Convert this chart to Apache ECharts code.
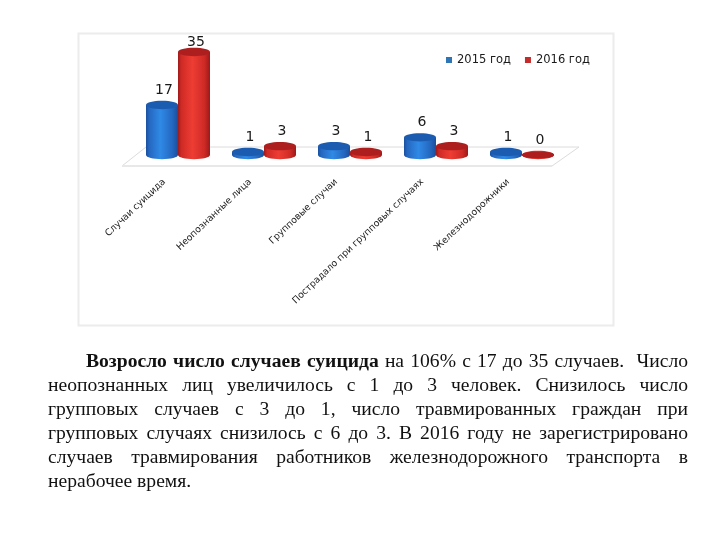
<!DOCTYPE html>
<html><head><meta charset="utf-8">
<script src="https://cdn.jsdelivr.net/npm/echarts@6/dist/echarts.min.js"></script>
<style>
html,body{margin:0;padding:0;background:#fff;width:720px;height:540px;overflow:hidden}
#c{position:absolute;left:0;top:0;width:720px;height:540px}
#t{position:absolute;left:48px;top:349px;width:640px;font-family:"Liberation Serif",serif;font-size:19.6px;line-height:23.9px;color:#111}
#t div{text-align:justify;text-align-last:justify;white-space:pre-wrap}
#t div.last{text-align-last:left}
#t div.first{padding-left:38px}
</style></head><body>
<div id="c"></div>
<div id="t">
<div class="first"><b>Возросло число случаев суицида</b> на 106% с 17 до 35 случаев.  Число</div>
<div>неопознанных лиц увеличилось с 1 до 3 человек. Снизилось число</div>
<div>групповых случаев с 3 до 1, число травмированных граждан при</div>
<div>групповых случаях снизилось с 6 до 3. В 2016 году не зарегистрировано</div>
<div>случаев травмирования работников железнодорожного транспорта в</div>
<div class="last">нерабочее время.</div>
</div>
<script>
var categories = ['Случаи суицида','Неопознанные лица','Групповые случаи','Пострадало при групповых случаях','Железнодорожники'];
var values2015 = [17,1,3,6,1];
var values2016 = [35,3,1,3,0];
var name2015 = '2015 год', name2016 = '2016 год';

function grad(c){
  return new echarts.graphic.LinearGradient(0,0,1,0,[
    {offset:0,color:c[0]},{offset:0.1,color:c[1]},{offset:0.45,color:c[2]},{offset:0.82,color:c[1]},{offset:1,color:c[0]}
  ]);
}
var blue = ['#1a4f9c','#2467c0','#2f8ae6'], blueTop = '#1c5cb0';
var red = ['#9c1a1a','#cf2a26','#ee3d33'], redTop = '#ad1f1f';

function cyl(side, pal, top){
  return function(params, api){
    var i = api.value(0), v = api.value(1);
    var rx = 16, ry = 4.2;
    var a = api.coord([i, v]), b = api.coord([i, 0]);
    var cx = a[0] + side * 16, yt = a[1], yb = b[1];
    var kids = [
      {type:'ellipse',shape:{cx:cx,cy:yb,rx:rx,ry:ry},style:{fill:grad(pal)}},
      {type:'rect',shape:{x:cx-rx,y:yt,width:rx*2,height:yb-yt},style:{fill:grad(pal)}},
      {type:'ellipse',shape:{cx:cx,cy:yt,rx:rx,ry:v===0?3.4:ry},style:{fill:top}},
      {type:'text',style:{x:cx+2,y:Math.max(yt-15,42),text:String(v),align:'center',verticalAlign:'middle',
        font:'14px "DejaVu Sans"',fill:'#1a1a1a'}}
    ];
    return {type:'group',children:kids};
  };
}

var chart = echarts.init(document.getElementById('c'));
chart.setOption({
  backgroundColor:'#fff',
  animation:false,
  legend:{
    left:441,top:49,itemWidth:6,itemHeight:6,itemGap:14,icon:'rect',
    data:[name2015,name2016],
    textStyle:{fontFamily:'"DejaVu Sans"',fontSize:11.5,color:'#1a1a1a'}
  },
  grid:{left:135,width:430,top:52,height:103},
  xAxis:{type:'category',data:categories,
    axisLine:{show:false},axisTick:{show:false},splitLine:{show:false},
    axisLabel:{interval:0,rotate:43.5,margin:12.4,fontFamily:'"DejaVu Sans"',fontSize:9.3,color:'#222',hideOverlap:false,padding:[0,19,0,0]}},
  yAxis:{type:'value',min:0,max:35,show:false},
  graphic:[
    {type:'rect',z:0,shape:{x:78.5,y:33.5,width:535,height:292},style:{fill:'#fff',stroke:'#ececec',lineWidth:2}},
    {type:'polygon',z:0,shape:{points:[[146,147],[579,147],[552,166],[122,166]]},style:{fill:'#fff',stroke:'#dcdcdc',lineWidth:1}},
    {type:'rect',z:0,shape:{x:122,y:165,width:430,height:2},style:{fill:'#e8e8e8'}}
  ],
  series:[
    {name:name2015,type:'custom',coordinateSystem:'cartesian2d',itemStyle:{color:'#2e75b6'},
      renderItem:cyl(-1,blue,blueTop),encode:{x:0,y:1},data:values2015.map(function(v,i){return [i,v];})},
    {name:name2016,type:'custom',coordinateSystem:'cartesian2d',itemStyle:{color:'#c42b2b'},
      renderItem:cyl(1,red,redTop),encode:{x:0,y:1},data:values2016.map(function(v,i){return [i,v];})}
  ]
});
</script>
</body></html>
